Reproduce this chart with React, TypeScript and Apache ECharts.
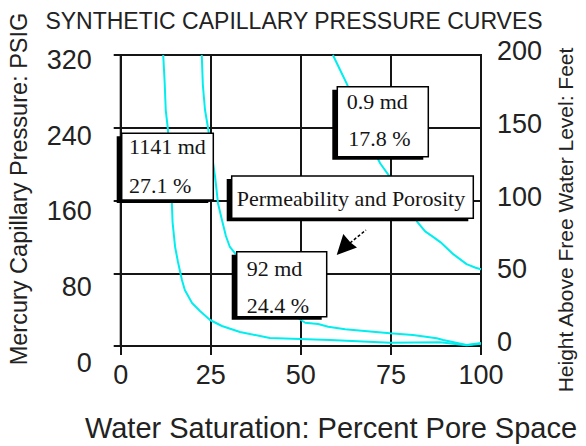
import { useEffect, useRef } from 'react';
import * as echarts from 'echarts';

// Axis ranges / ticks
const saturationTicks = [0, 25, 50, 75, 100];
const pressureTicks = [0, 80, 160, 240, 320];
const heightTicks = [0, 50, 100, 150, 200];

// Capillary pressure curves: [water saturation %, mercury pressure psig]
const curve1141md: [number, number][] = [
  [11.8, 320], [12.2, 290], [12.5, 259.5], [13.1, 238.6], [14.2, 157], [14.4, 136],
  [15.1, 108.9], [15.9, 92.4], [17.0, 72.6], [17.8, 61.6], [19.8, 47.3], [22.0, 38.5],
  [24.8, 28.6], [28.1, 22], [33.1, 15.4], [41.4, 8.8], [49.7, 7.7], [58.1, 6.6],
  [74.8, 3.6], [88.6, 4.2], [96, 0.8], [100, 2.5],
];
const curve92md: [number, number][] = [
  [22.5, 320], [22.8, 287], [23.4, 259.5], [24.2, 240.8], [26.2, 185.9], [26.7, 168],
  [27.0, 157], [28.1, 138.6], [29.2, 121], [30.3, 108.9], [31.7, 102], [34.5, 85.8],
  [38.1, 67], [42.8, 50.6], [47, 36.3], [51.2, 25.6], [54.8, 24.2], [57.6, 21.2],
  [62.3, 18.4], [66.9, 16.8], [74.7, 14], [81.1, 12.1], [87.7, 8.5], [89.5, 6.6],
  [96, 1.1], [100, 3.3],
];
const curve09md: [number, number][] = [
  [58.9, 320], [60.9, 303.5], [62.8, 288], [65.0, 265], [67.2, 243], [69.5, 221],
  [72.0, 201], [74.7, 186], [77.5, 171.5], [80.3, 154], [82.3, 136.5], [84.5, 126],
  [86.7, 120], [88.8, 114], [92.3, 101], [96, 90], [98.5, 86], [100, 84.5],
];

// Annotation texts
const box1141 = ['1141 md', '27.1 %'];
const box09 = ['0.9 md', '17.8 %'];
const box92 = ['92 md', '24.4 %'];
const legendTitle = 'Permeability and Porosity';
const chartTitle = 'SYNTHETIC CAPILLARY PRESSURE CURVES';
const xTitle = 'Water Saturation: Percent Pore Space';
const yLeftTitle = 'Mercury Capillary Pressure: PSIG';
const yRightTitle = 'Height Above Free Water Level: Feet';

const INK = '#151515';
const CYAN = '#00eeee';
const SERIF = '22px "Liberation Serif", "Times New Roman", serif';
const SANS = '"Liberation Sans", Arial, sans-serif';

function shadowBox(x: number, y: number, w: number, h: number) {
  return [
    { type: 'rect', z: 100, shape: { x: x - 5, y: y + 3, width: w, height: h }, style: { fill: '#000' } },
    { type: 'rect', z: 101, shape: { x, y, width: w, height: h }, style: { fill: '#fff', stroke: '#000', lineWidth: 1.5 } },
  ];
}
function boxText(text: string, x: number, y: number) {
  return { type: 'text', z: 102, x, y, style: { text, font: SERIF, fill: INK, verticalAlign: 'middle', align: 'left' } };
}

export default function App() {
  const ref = useRef<HTMLDivElement>(null);
  useEffect(() => {
    if (!ref.current) return;
    const chart = echarts.init(ref.current, undefined, { renderer: 'svg' });
    const lineStyle = { color: INK, width: 2 };
    const gridMain = { left: 120.7, right: 105, top: 55, bottom: 100 };
    const option: any = {
      animation: false,
      backgroundColor: '#fff',
      grid: [
        { ...gridMain, show: true, borderColor: INK, borderWidth: 2, backgroundColor: 'transparent' },
        { left: 120.7, right: 105, top: 59.7, bottom: 83 },
        { left: 120.7, right: 105, top: 51, bottom: 104 },
      ],
      xAxis: [
        {
          gridIndex: 0, type: 'value', min: saturationTicks[0], max: saturationTicks[saturationTicks.length - 1], interval: 25,
          axisLine: { show: true, lineStyle },
          axisTick: { show: true, length: 9, lineStyle },
          splitLine: { show: true, lineStyle },
          axisLabel: { show: true, margin: 15, fontSize: 27, fontFamily: SANS, color: '#222' },
        },
        { gridIndex: 1, type: 'value', min: 0, max: 100, show: false },
        { gridIndex: 2, type: 'value', min: 0, max: 100, show: false },
      ],
      yAxis: [
        {
          gridIndex: 0, type: 'value', min: pressureTicks[0], max: pressureTicks[pressureTicks.length - 1], interval: 80,
          axisLine: { show: true, lineStyle },
          axisTick: { show: true, length: 7, lineStyle },
          splitLine: { show: true, lineStyle },
          axisLabel: { show: false },
        },
        {
          gridIndex: 1, type: 'value', min: pressureTicks[0], max: pressureTicks[pressureTicks.length - 1], interval: 80,
          axisLine: { show: false }, axisTick: { show: false }, splitLine: { show: false },
          axisLabel: { show: true, margin: 29, fontSize: 27, fontFamily: SANS, color: '#222', align: 'right' },
        },
        {
          gridIndex: 2, type: 'value', position: 'right', min: heightTicks[0], max: heightTicks[heightTicks.length - 1], interval: 50,
          axisLine: { show: false }, axisTick: { show: false }, splitLine: { show: false },
          axisLabel: { show: true, margin: 16, fontSize: 27, fontFamily: SANS, color: '#222', align: 'left' },
        },
      ],
      series: [
        { name: '1141 md', data: curve1141md },
        { name: '92 md', data: curve92md },
        { name: '0.9 md', data: curve09md },
      ].map((s) => ({
        ...s, type: 'line', xAxisIndex: 0, yAxisIndex: 0, symbol: 'none', smooth: false,
        lineStyle: { color: CYAN, width: 2 }, z: 3,
      })),
      graphic: [
        { type: 'text', z: 102, x: 294, y: 21, style: { text: chartTitle, font: `23px ${SANS}`, fill: '#222', align: 'center', verticalAlign: 'middle' } },
        { type: 'text', z: 102, x: 331, y: 428, style: { text: xTitle, font: `29px ${SANS}`, fill: '#222', align: 'center', verticalAlign: 'middle' } },
        { type: 'text', z: 102, x: 19, y: 189, rotation: Math.PI / 2, style: { text: yLeftTitle, font: `23.5px ${SANS}`, fill: '#222', align: 'center', verticalAlign: 'middle' } },
        { type: 'text', z: 102, x: 565, y: 220, rotation: Math.PI / 2, style: { text: yRightTitle, font: `21px ${SANS}`, fill: '#222', align: 'center', verticalAlign: 'middle' } },
        ...shadowBox(121.7, 133.3, 91.6, 66.7),
        boxText(box1141[0], 129, 146),
        boxText(box1141[1], 129, 185),
        ...shadowBox(337.3, 86.7, 91, 70),
        boxText(box09[0], 346.7, 101),
        boxText(box09[1], 348.3, 138),
        ...shadowBox(236.7, 251.7, 90, 65),
        boxText(box92[0], 246.7, 268),
        boxText(box92[1], 246.7, 305),
        ...shadowBox(231.7, 176, 241.6, 42.3),
        boxText(legendTitle, 236.7, 198.3),
        { type: 'polygon', z: 102, shape: { points: [[336.7, 255], [343.3, 234], [350.5, 242.5], [357, 247.5]] }, style: { fill: '#000' } },
        { type: 'line', z: 102, shape: { x1: 350, y1: 243, x2: 366, y2: 230 }, style: { stroke: '#000', lineWidth: 1.5, lineDash: [3, 2] } },
      ],
    };
    chart.setOption(option);
    return () => chart.dispose();
  }, []);
  return <div ref={ref} style={{ position: 'fixed', left: 0, top: 0, width: 586, height: 446 }} />;
}
